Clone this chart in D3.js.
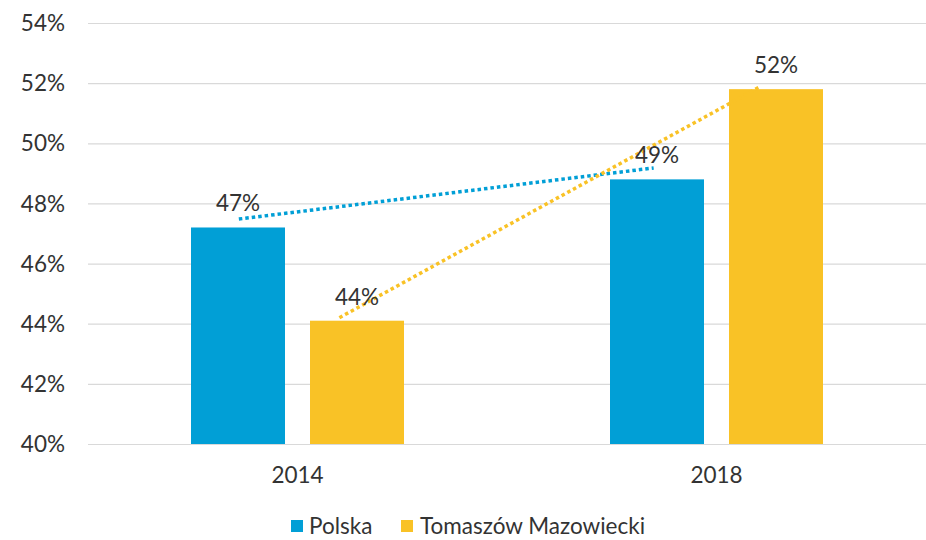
<!DOCTYPE html>
<html>
<head>
<meta charset="utf-8">
<script src="https://cdn.jsdelivr.net/npm/d3@7"></script>
<style>
  body { margin: 0; background: #fff; }
  svg { font-family: Lato, "Open Sans", sans-serif; }
</style>
</head>
<body>
<svg width="926" height="540"></svg>
<script>
const years = ["2014", "2018"];
const seriesNames = ["Polska", "Tomaszów Mazowiecki"];
const polska = [47.2, 48.8];
const tomaszow = [44.1, 51.8];
const yTicks = [40, 42, 44, 46, 48, 50, 52, 54];
// trend lines: [category position, value]
const trendPolska = [[-0.14, 47.48], [0.85, 49.18]];
const trendTomaszow = [[0.1, 44.2], [1.1, 51.85]];

const colors = ["#019fd6", "#f9c226"];
const values = [polska, tomaszow];

const svg = d3.select("svg");
const margin = { left: 88, right: 0, top: 23, bottom: 96 };
const W = 926, H = 540;
const fontSize = "22.5px";
const textColor = "#333";

const y = d3.scaleLinear().domain([40, 54]).range([H - margin.bottom, margin.top]);
const x = d3.scaleBand().domain(years).range([margin.left, W - margin.right]);
const xPos = d3.scaleLinear().domain([-0.5, 1.5]).range([margin.left, W - margin.right]);

const barW = 94, gap = 25;
const offset = i => (i === 0 ? -(gap / 2 + barW) : gap / 2);

// gridlines
svg.append("g")
  .selectAll("line")
  .data(yTicks)
  .join("line")
  .attr("x1", margin.left)
  .attr("x2", W - margin.right)
  .attr("y1", d => y(d) + 0.5)
  .attr("y2", d => y(d) + 0.5)
  .style("stroke", "#d9d9d9")
  .style("stroke-width", 1.2);

// y labels
svg.append("g")
  .selectAll("text")
  .data(yTicks)
  .join("text")
  .attr("x", 65)
  .attr("y", d => y(d))
  .attr("dy", "0.36em")
  .attr("text-anchor", "end")
  .style("font-size", fontSize)
  .style("fill", textColor)
  .text(d => d + "%");

// bars
values.forEach((vals, si) => {
  svg.append("g")
    .selectAll("rect")
    .data(vals)
    .join("rect")
    .attr("x", (d, i) => x(years[i]) + x.bandwidth() / 2 + offset(si))
    .attr("width", barW)
    .attr("y", d => y(d))
    .attr("height", d => y(40) - y(d))
    .style("fill", colors[si]);
});

// trend lines
const line = d3.line().x(d => xPos(d[0])).y(d => y(d[1]));
[trendPolska, trendTomaszow].forEach((t, si) => {
  svg.append("path")
    .attr("d", line(t))
    .style("fill", "none")
    .style("stroke", colors[si])
    .style("stroke-width", 3.5)
    .style("stroke-dasharray", "3.5,3");
});

// data labels
values.forEach((vals, si) => {
  svg.append("g")
    .selectAll("text")
    .data(vals)
    .join("text")
    .attr("x", (d, i) => x(years[i]) + x.bandwidth() / 2 + offset(si) + barW / 2)
    .attr("y", d => y(d) - 16)
    .attr("text-anchor", "middle")
    .style("font-size", fontSize)
    .style("fill", textColor)
    .text(d => Math.round(d) + "%");
});

// x labels
svg.append("g")
  .selectAll("text")
  .data(years)
  .join("text")
  .attr("x", d => x(d) + x.bandwidth() / 2)
  .attr("y", 483)
  .attr("text-anchor", "middle")
  .style("font-size", fontSize)
  .style("fill", textColor)
  .text(d => d);

// legend
const legendX = [291, 401];
const leg = svg.append("g")
  .selectAll("g")
  .data(seriesNames)
  .join("g")
  .attr("transform", (d, i) => `translate(${legendX[i]},526)`);
leg.append("rect")
  .attr("x", 0).attr("y", -6)
  .attr("width", 12).attr("height", 12)
  .style("fill", (d, i) => colors[i]);
leg.append("text")
  .attr("x", (d, i) => (i === 0 ? 18 : 19))
  .attr("dy", "0.36em")
  .style("font-size", fontSize)
  .style("fill", textColor)
  .text(d => d);
</script>
</body>
</html>
